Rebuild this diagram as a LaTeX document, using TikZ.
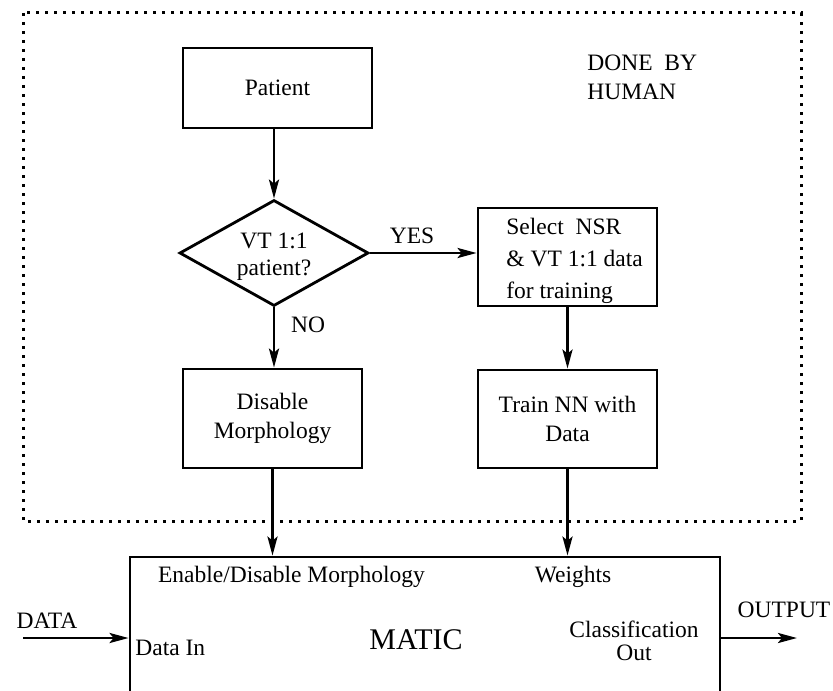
\documentclass[tikz,border=0pt]{standalone}
\usepackage{fontspec}
\setmainfont{Liberation Serif}
\usetikzlibrary{arrows.meta,shapes.geometric}
\begin{document}
\begin{tikzpicture}[x=0.5pt,y=-0.5pt,
  font=\fontsize{11.75}{14.5}\selectfont,
  box/.style={draw,line width=1.4pt,inner sep=0pt,align=center},
  flow/.style={-{Stealth[length=9.5pt,width=5pt,inset=2pt]},line width=1.4pt},
  txt/.style={inner sep=0pt,align=center},
  dotline/.style={line width=1.5pt,dash pattern=on 1.5pt off 3pt}]
\clip (0,0) rectangle (833,690);

% region handled by a person
\draw[dotline] (23,13) rectangle (801,521);
\node[txt,anchor=west,align=left] (human) at (587,77) {DONE\ \ BY\\HUMAN};

% decision flow
\node[box,minimum width=94.5pt,minimum height=40pt] (patient) at (277.5,88) {Patient};
\node[draw,diamond,line width=1.4pt,inner sep=0pt,minimum width=94.5pt,minimum height=53pt] (dia) at (274,253) {};
\node[txt,font=\fontsize{11.75}{13.5}\selectfont] (diatext) at (274,257) {VT 1:1\\patient?};
\node[box,minimum width=89.5pt,minimum height=49pt] (select) at (567.5,257) {};
\node[txt,anchor=west,align=left,font=\fontsize{11.75}{16}\selectfont] (seltext) at (506,261) {Select\ \ NSR\\\&\ VT 1:1 data\\for training};
\node[box,minimum width=89.5pt,minimum height=49.5pt] (disable) at (272.5,418.5) {Disable\\Morphology};
\node[box,minimum width=89.5pt,minimum height=49pt] (train) at (567.5,419) {Train NN with\\Data};

\node[txt] (yes) at (412,236) {YES};
\node[txt] (no) at (308,325) {NO};

\draw[flow] (patient.south -| dia.north) -- (dia.north);
\draw[flow] (dia.east) -- (dia.east -| select.west);
\draw[flow] (dia.south) -- (dia.south |- disable.north);
\draw[flow] (select.south) -- (train.north);

% classifier block
\node[box,minimum width=295pt,minimum height=81.5pt] (matic) at (425,638.5) {};
\node[txt] (enable) at (291.5,577) {Enable/Disable Morphology};
\node[txt] (weights) at (573,577) {Weights};
\node[txt,anchor=west] (datain) at (135,648) {Data In};
\node[txt,font=\fontsize{15}{18}\selectfont] (matictext) at (416,640) {MATIC};
\node[txt,font=\fontsize{11.75}{11.5}\selectfont] (classout) at (634,641) {Classification\\Out};

\draw[flow] (disable.south) -- (disable.south |- matic.north);
\draw[flow] (train.south) -- (train.south |- matic.north);

% external input and output
\node[txt] (data) at (47,621) {DATA};
\node[txt] (output) at (784,610) {OUTPUT};
\coordinate (src) at (23,638);
\coordinate (dst) at (797,638);
\draw[flow] (src) -- (src -| matic.west);
\draw[flow] (dst -| matic.east) -- (dst);
\end{tikzpicture}
\end{document}
